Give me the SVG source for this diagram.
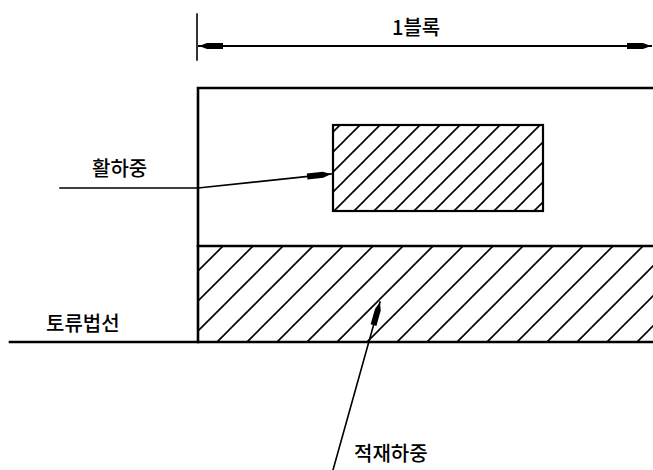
<svg xmlns="http://www.w3.org/2000/svg" width="653" height="470" viewBox="0 0 653 470">
<style>
  .lbl { font-family: "Noto Sans CJK KR", "Noto Sans", sans-serif; font-size: 20px; font-weight: 500; fill: #000; }
  .edge { stroke: #000; fill: none; stroke-linecap: square; }
  .thick { stroke-width: 2.6; }
  .mid { stroke-width: 2; }
  .thin { stroke-width: 1.6; }
  .hatch { stroke: #000; stroke-width: 1.6; }
</style>
<defs>
  <pattern id="h20" patternUnits="userSpaceOnUse" x="5" y="0" width="20" height="20">
    <path class="hatch" d="M0,20 L20,0 M-2,2 L2,-2 M18,22 L22,18"/>
  </pattern>
  <pattern id="h30" patternUnits="userSpaceOnUse" x="19" y="0" width="30" height="30">
    <path class="hatch" d="M0,30 L30,0 M-2,2 L2,-2 M28,32 L32,28"/>
  </pattern>
  <marker id="arr" markerUnits="userSpaceOnUse" viewBox="-26 -4 27 8" refX="0" refY="0" markerWidth="27" markerHeight="8" orient="auto-start-reverse">
    <path d="M0,0 L-8,-3 L-24,-3 L-24,3 L-8,3 Z" fill="#000"/>
  </marker>
</defs>
<rect width="653" height="470" fill="#fff"/>

<g id="wall-block">
  <path class="edge thick" d="M199,88 L653,88 M198,88 L198,342"/>
</g>

<g id="live-load">
  <rect x="333" y="125" width="210" height="86" fill="url(#h20)" stroke="#000" stroke-width="2.2"/>
</g>

<g id="fill-load">
  <rect x="198" y="246" width="460" height="95" fill="url(#h30)"/>
  <path class="edge thick" d="M198,246 L653,246"/>
</g>

<g id="ground-line">
  <path class="edge thick" d="M10,342 L653,342"/>
</g>

<g id="connectors">
  <path class="edge thin" d="M197,14 L197,60"/>
  <path class="edge mid" d="M199,46 L651,46" marker-start="url(#arr)" marker-end="url(#arr)"/>
  <path class="edge thin" d="M60,188 L198,188 L331,174" marker-end="url(#arr)"/>
  <path class="edge thin" d="M333,470 L380,302" marker-end="url(#arr)"/>
</g>

<g id="labels">
  <text class="lbl" x="392" y="35">1블록</text>
  <text class="lbl" x="92" y="176">활하중</text>
  <text class="lbl" x="46" y="331">토류법선</text>
  <text class="lbl" x="354" y="461">적재하중</text>
</g>
</svg>
